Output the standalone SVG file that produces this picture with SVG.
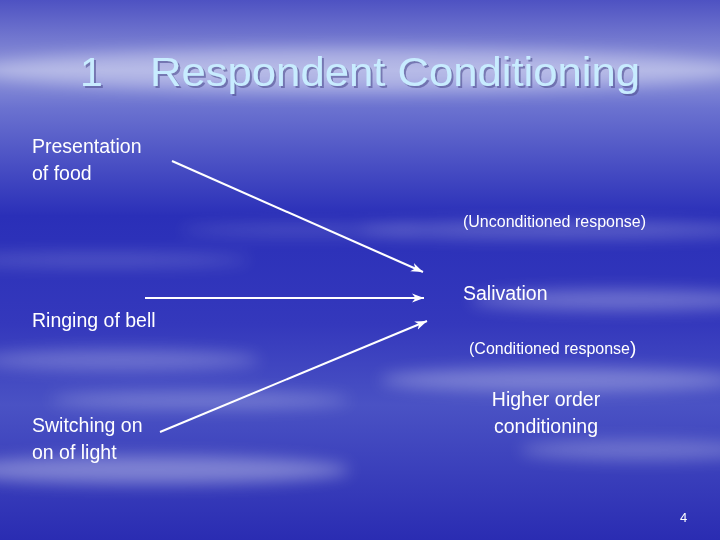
<svg xmlns="http://www.w3.org/2000/svg" width="720" height="540" viewBox="0 0 720 540">
<defs>
<linearGradient id="bg" x1="0" y1="0" x2="0" y2="1">
<stop offset="0" stop-color="#4e52c2"/>
<stop offset="0.13" stop-color="#9096da"/>
<stop offset="0.2" stop-color="#6b72d0"/>
<stop offset="0.4" stop-color="#2a2fb8"/>
<stop offset="0.6" stop-color="#3438bc"/>
<stop offset="0.75" stop-color="#4a52c4"/>
<stop offset="1" stop-color="#2a2cb2"/>
</linearGradient>
<filter id="blur" x="-50%" y="-50%" width="200%" height="200%"><feGaussianBlur stdDeviation="8"/></filter>
<filter id="shadow" x="-5%" y="-20%" width="110%" height="140%"><feDropShadow dx="2" dy="2" stdDeviation="0.5" flood-color="#505090" flood-opacity="0.6"/></filter>
<marker id="ah" markerWidth="14" markerHeight="12" refX="12" refY="6" orient="auto" markerUnits="userSpaceOnUse">
<path d="M0,1.5 L12,6 L0,10.5 L3.5,6 Z" fill="#ffffff"/>
</marker>
<style>
.t{font-family:"Liberation Sans",Arial,sans-serif;fill:#ffffff;}
.b{font-size:19.5px;}
.s{font-size:16px;}
.c{stroke:#ffffff;stroke-width:2;fill:none;marker-end:url(#ah);}
</style>
</defs>
<g id="background">
<rect width="720" height="540" fill="url(#bg)"/>
<g filter="url(#blur)" fill="#ffffff">
<ellipse cx="360" cy="70" rx="380" ry="22" opacity="0.35"/>
<ellipse cx="560" cy="230" rx="200" ry="8" opacity="0.25"/>
<ellipse cx="620" cy="300" rx="150" ry="10" opacity="0.3"/>
<ellipse cx="120" cy="360" rx="140" ry="10" opacity="0.25"/>
<ellipse cx="560" cy="380" rx="180" ry="12" opacity="0.3"/>
<ellipse cx="200" cy="400" rx="150" ry="8" opacity="0.25"/>
<ellipse cx="150" cy="470" rx="200" ry="14" opacity="0.35"/>
<ellipse cx="640" cy="450" rx="120" ry="10" opacity="0.25"/>
<ellipse cx="100" cy="260" rx="150" ry="6" opacity="0.2"/>
<ellipse cx="300" cy="230" rx="120" ry="5" opacity="0.18"/>
</g>
</g>
<g id="title">
<text x="80" y="86" class="t" style="font-size:41px;fill:#c8ecff" filter="url(#shadow)">1</text>
<text x="150" y="86" class="t" style="font-size:41px;fill:#c8ecff" filter="url(#shadow)" textLength="490" lengthAdjust="spacingAndGlyphs">Respondent Conditioning</text>
</g>
<g id="connectors">
<line x1="172" y1="161" x2="423" y2="272" class="c"/>
<line x1="145" y1="298" x2="424" y2="298" class="c"/>
<line x1="160" y1="432" x2="427" y2="321" class="c"/>
</g>
<g id="food"><text class="t b" x="32" y="153">Presentation</text><text class="t b" x="32" y="180">of food</text></g>
<g id="ucr"><text class="t s" x="463" y="227" textLength="183" lengthAdjust="spacingAndGlyphs">(Unconditioned response)</text></g>
<g id="salivation"><text class="t b" x="463" y="300">Salivation</text></g>
<g id="bell"><text class="t b" x="32" y="327">Ringing of bell</text></g>
<g id="cr"><text class="t s" x="469" y="354">(Conditioned response<tspan style="font-size:19px">)</tspan></text></g>
<g id="higher"><text class="t b" x="546" y="406" text-anchor="middle">Higher order</text><text class="t b" x="546" y="433" text-anchor="middle">conditioning</text></g>
<g id="light"><text class="t b" x="32" y="432">Switching on</text><text class="t b" x="32" y="459">on of light</text></g>
<g id="page"><text class="t" style="font-size:13px" x="680" y="522">4</text></g>
</svg>
